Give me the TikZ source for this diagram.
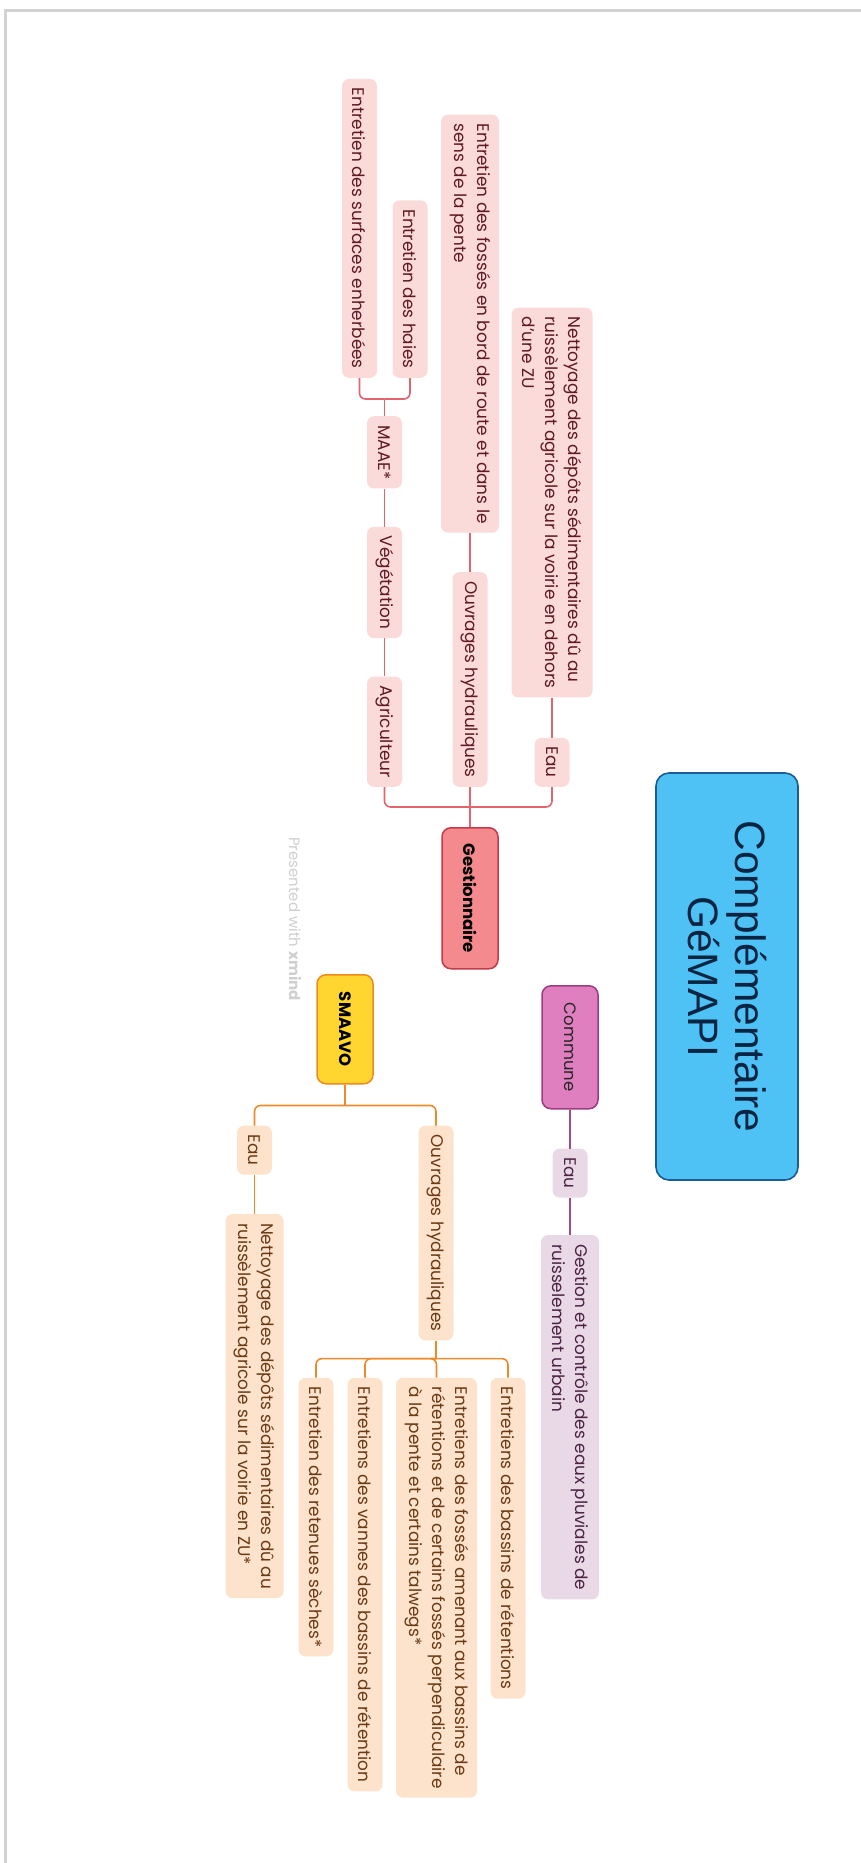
\documentclass[tikz,border=0pt]{standalone}
\usepackage{fontspec}
\setmainfont{Poppins}
\newfontfamily\rootfont{Liberation Sans}
\usepackage{xcolor}

\definecolor{framegrey}{HTML}{D2D2D2}
\definecolor{markgrey}{HTML}{CFCFCF}
\definecolor{rootfill}{HTML}{4EC2F5}
\definecolor{rootdraw}{HTML}{1B5C93}
\definecolor{roottext}{HTML}{0B2442}
% Gestionnaire branch
\definecolor{gestfill}{HTML}{F48A8D}
\definecolor{gestdraw}{HTML}{C53A49}
\definecolor{gestline}{HTML}{E4646D}
\definecolor{gestsub}{HTML}{FBDADA}
\definecolor{gesttext}{HTML}{5E1A20}
% Commune branch
\definecolor{commfill}{HTML}{E07FBF}
\definecolor{commdraw}{HTML}{9C3C7C}
\definecolor{commline}{HTML}{A24A85}
\definecolor{commsub}{HTML}{E9D8E6}
\definecolor{commtext}{HTML}{4B2343}
% SMAAVO branch
\definecolor{smafill}{HTML}{FFD630}
\definecolor{smadraw}{HTML}{F0891E}
\definecolor{smaline}{HTML}{F0892A}
\definecolor{smasub}{HTML}{FDE2CC}
\definecolor{smatext}{HTML}{6A3A14}

\begin{document}
\begin{tikzpicture}[
        x=1pt, y=1pt,
        every node/.style={rotate=-90},
        sub/.style={rounded corners=7pt, inner xsep=9pt, inner ysep=0pt,
          minimum height=35pt, align=left,
          font=\fontsize{16.9}{23}\selectfont},
        two/.style={minimum height=58pt},
        three/.style={minimum height=81pt},
        topic/.style={rounded corners=9pt, line width=1.5pt, inner xsep=15pt,
          minimum height=56pt, font=\fontsize{16.5}{20}\selectfont},
        root/.style={rounded corners=13pt, fill=rootfill, draw=rootdraw, line width=1.6pt,
          minimum width=407pt, minimum height=142pt, align=center, text=roottext,
          font=\rootfont\fontsize{42.5}{47}\selectfont},
        gsub/.style={sub, fill=gestsub, text=gesttext},
        csub/.style={sub, fill=commsub, text=commtext},
        ssub/.style={sub, fill=smasub, text=smatext},
        gline/.style={draw=gestline, line width=1.6pt, rounded corners=6pt},
        cline/.style={draw=commline, line width=1.6pt},
        sline/.style={draw=smaline, line width=1.6pt, rounded corners=6pt}
      ]
        \useasboundingbox (0,0) rectangle (861,-1863);
        \draw[framegrey, line width=3pt] (5,-1863) -- (5,-10) -- (861,-10);

        % central topic
        \node[root] (root) at (727,-976.5) {Complémentaire\\GéMAPI};

        % Gestionnaire, growing upwards
        \node[topic, fill=gestfill, draw=gestdraw, minimum width=141pt, anchor=west] (gest) at (470,-827) {\bfseries Gestionnaire};
        \path (gest.west) ++(0,20) coordinate (gbar);
        \node[gsub, anchor=east] (geau) at ([xshift=82pt, yshift=20pt]gbar) {Eau};
        \node[gsub, anchor=east] (gouv) at ([yshift=20pt]gbar) {Ouvrages hydrauliques};
        \node[gsub, anchor=east] (gagri) at ([xshift=-85.5pt, yshift=20pt]gbar) {Agriculteur};
        \node[gsub, three, anchor=east] (gnet) at ([yshift=40pt]geau.west) {Nettoyage des dépôts sédimentaires dû au\\ruissèlement agricole sur la voirie en dehors\\d’une ZU};
        \node[gsub, two, anchor=east] (gfos) at ([yshift=39pt]gouv.west) {Entretien des fossés en bord de route et dans le\\sens de la pente};
        \node[gsub, anchor=east] (gveg) at ([yshift=38pt]gagri.west) {Végétation};
        \node[gsub, anchor=east] (gmaae) at ([yshift=38pt]gveg.west) {MAAE*};
        \path (gmaae.west) ++(0,17) coordinate (mbar);
        \node[gsub, anchor=east] (ghaies) at ([xshift=25.5pt, yshift=21pt]mbar) {Entretien des haies};
        \node[gsub, anchor=east] (gsurf) at ([xshift=-25pt, yshift=21pt]mbar) {Entretien des surfaces enherbées};

        \draw[gline] (gest.west) -- (gbar);
        \draw[gline] (gbar) -| (geau.east);
        \draw[gline] (gbar) -| (gouv.east);
        \draw[gline] (gbar) -| (gagri.east);
        \draw[gline] (geau.west) -- (gnet.east);
        \draw[gline] (gouv.west) -- (gfos.east);
        \draw[gline] (gagri.west) -- (gveg.east);
        \draw[gline] (gveg.west) -- (gmaae.east);
        \draw[gline] (gmaae.west) -- (mbar);
        \draw[gline] (mbar) -| (ghaies.east);
        \draw[gline] (mbar) -| (gsurf.east);

        % Commune
        \node[topic, fill=commfill, draw=commdraw, text=black!85, minimum width=123pt, anchor=west] (comm) at (570,-985) {Commune};
        \node[csub, anchor=west] (ceau) at ([yshift=-39pt]comm.east) {Eau};
        \node[csub, two, anchor=west] (cges) at ([yshift=-37pt]ceau.east) {Gestion et contrôle des eaux pluviales de\\ruisselement urbain};
        \draw[cline] (comm.east) -- (ceau.west);
        \draw[cline] (ceau.east) -- (cges.west);

        % SMAAVO, growing downwards
        \node[topic, fill=smafill, draw=smadraw, minimum width=109pt, anchor=west] (smaavo) at (345,-974) {\bfseries SMAAVO};
        \path (smaavo.east) ++(0,-21) coordinate (sbar);
        \node[ssub, anchor=west] (seau) at ([xshift=-90.5pt, yshift=-20pt]sbar) {Eau};
        \node[ssub, anchor=west] (souv) at ([xshift=91pt, yshift=-20pt]sbar) {Ouvrages hydrauliques};
        \node[ssub, two, anchor=west] (snet) at ([yshift=-39pt]seau.east) {Nettoyage des dépôts sédimentaires dû au\\ruissèlement agricole sur la voirie en ZU*};
        \path (souv.east) ++(0,-18) coordinate (obar);
        \node[ssub, anchor=west] (sret) at ([xshift=-120pt, yshift=-19pt]obar) {Entretien des retenues sèches*};
        \node[ssub, anchor=west] (svan) at ([xshift=-71pt, yshift=-19pt]obar) {Entretiens des vannes des bassins de rétention};
        \node[ssub, three, anchor=west] (sfos) at ([xshift=0.5pt, yshift=-19pt]obar) {Entretiens des fossés amenant aux bassins de\\rétentions et de certains fossés perpendiculaire\\à la pente et certains talwegs*};
        \node[ssub, anchor=west] (sbas) at ([xshift=72pt, yshift=-19pt]obar) {Entretiens des bassins de rétentions};

        \draw[sline] (smaavo.east) -- (sbar);
        \draw[sline] (sbar) -| (seau.west);
        \draw[sline] (sbar) -| (souv.west);
        \draw[sline] (seau.east) -- (snet.west);
        \draw[sline] (souv.east) -- (obar);
        \draw[sline] (obar) -| (sret.west);
        \draw[sline] (obar) -| (svan.west);
        \draw[sline] (obar) -| (sfos.west);
        \draw[sline] (obar) -| (sbas.west);

        % watermark
        \node[text=markgrey, font=\fontsize{15}{17}\selectfont] (mark) at (295,-919) {Presented with \textbf{xmind}};
    \end{tikzpicture}
\end{document}
